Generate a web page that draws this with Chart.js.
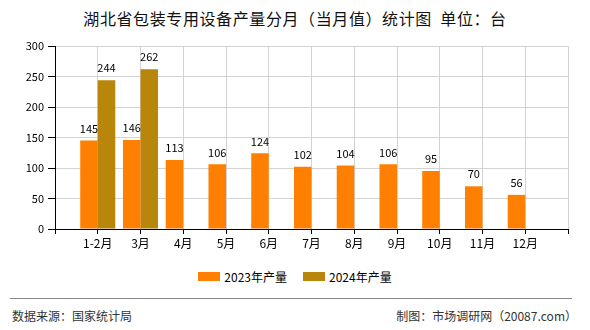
<!DOCTYPE html>
<html>
<head>
<meta charset="utf-8">
<script src="https://cdn.jsdelivr.net/npm/chart.js@4/dist/chart.umd.min.js"></script>
<style>
body { margin:0; background:#fff; }
#wrap { position:relative; width:590px; height:330px; font-family:"Noto Sans CJK SC", sans-serif; }
#title { position:absolute; top:6px; left:0; width:590px; text-align:center; font-size:16px; letter-spacing:0.6px; color:#111; }
#chartBox { position:absolute; top:0; left:0; width:590px; height:252px; }
#legend { position:absolute; top:268px; left:0; width:590px; display:flex; justify-content:center; font-size:12px; color:#000; }
#legend span.item { display:flex; align-items:center; margin:0 8px; }
#legend span.box { display:inline-block; width:22px; height:9px; margin-right:4px; }
#line { position:absolute; top:298px; left:10px; width:562px; border-top:1px solid #888; }
#src { position:absolute; top:307px; left:12px; font-size:12px; color:#333; }
#maker { position:absolute; top:307px; right:13px; font-size:12px; color:#333; }
</style>
</head>
<body>
<div id="wrap">
  <div id="title">湖北省包装专用设备产量分月（当月值）统计图&nbsp;&nbsp;单位：台</div>
  <div id="chartBox"><canvas id="chart" width="590" height="252"></canvas></div>
  <div id="legend"></div>
  <div id="line"></div>
  <div id="src">数据来源：国家统计局</div>
  <div id="maker">制图：市场调研网（20087.com）</div>
</div>
<script>
// months and monthly output (units)
let months = ['1-2月','3月','4月','5月','6月','7月','8月','9月','10月','11月','12月'];
let out2023 = [145,146,113,106,124,102,104,106,95,70,56];
let out2024 = [244,262,null,null,null,null,null,null,null,null,null];
let seriesNames = ['2023年产量','2024年产量'];
let seriesColors = ['#ff8000','#b8860b'];
let yMax = 300;
let yStep = 50;

// empty slot at each end so the months sit on the grid lines
let labels = [''].concat(months, ['']);
let pad = arr => [null].concat(arr, [null]);

/* value labels above the bars */
let valueLabels = {
  id:'valueLabels',
  afterDatasetsDraw(chart){
    let ctx = chart.ctx;
    ctx.save();
    ctx.font = '11px "Noto Sans CJK SC", sans-serif';
    ctx.fillStyle = '#000';
    ctx.textAlign = 'center';
    ctx.textBaseline = 'middle';
    chart.data.datasets.forEach((ds, i) => {
      chart.getDatasetMeta(i).data.forEach((bar, j) => {
        let v = ds.data[j];
        if(v == null) return;
        ctx.fillText(v, bar.x, bar.y - 12);
      });
    });
    ctx.restore();
  }
};

new Chart(document.getElementById('chart'), {
  type:'bar',
  data:{
    labels:labels,
    datasets:[
      { label:seriesNames[0], data:pad(out2023), backgroundColor:seriesColors[0] },
      { label:seriesNames[1], data:pad(out2024), backgroundColor:seriesColors[1] }
    ]
  },
  options:{
    responsive:false,
    animation:false,
    categoryPercentage:0.82,
    barPercentage:1.0,
    layout:{ padding:{ top:46, right:22, left:0, bottom:0 } },
    plugins:{
      legend:{ display:false },
      tooltip:{ enabled:false }
    },
    scales:{
      x:{
        offset:false,
        grid:{ offset:false, color:'#d3d3d3', tickColor:'#000', tickLength:5 },
        border:{ color:'#000' },
        ticks:{ autoSkip:false, maxRotation:0, padding:2, color:'#000', font:{ size:12, family:'"Noto Sans CJK SC", sans-serif' } },
        afterFit(s){ s.height = 23; }
      },
      y:{
        min:0,
        max:yMax,
        grid:{ color:'#d3d3d3', tickColor:'#000', tickLength:7 },
        border:{ color:'#000' },
        ticks:{ stepSize:yStep, padding:4, color:'#000', font:{ size:11, family:'"Noto Sans CJK SC", sans-serif' } },
        afterFit(s){ s.width = 55; }
      }
    }
  },
  plugins:[valueLabels]
});

/* legend */
let lg = document.getElementById('legend');
seriesNames.forEach((name, i) => {
  let item = document.createElement('span');
  item.className = 'item';
  let box = document.createElement('span');
  box.className = 'box';
  box.style.background = seriesColors[i];
  item.appendChild(box);
  item.appendChild(document.createTextNode(name));
  lg.appendChild(item);
});
</script>
</body>
</html>
